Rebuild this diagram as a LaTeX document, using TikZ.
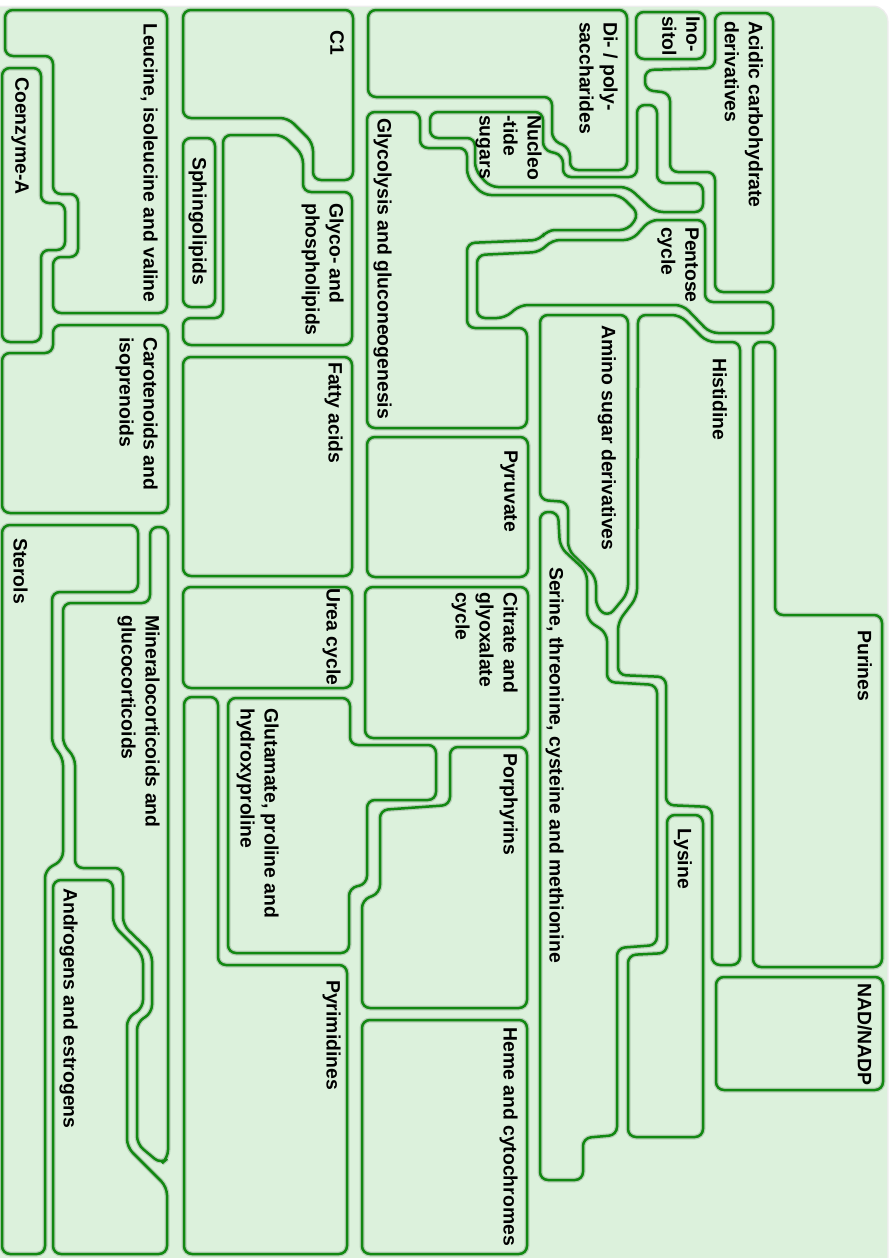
\documentclass[tikz,border=0pt]{standalone}
\usepackage{fontspec}
\setmainfont{Liberation Sans}
\definecolor{bggreen}{RGB}{220,241,220}
\definecolor{bglight}{RGB}{240,244,240}
\definecolor{rimgreen}{RGB}{18,136,18}
\definecolor{rimshade}{RGB}{140,165,140}
\pgfdeclareverticalshading{bgfade}{100bp}{color(0bp)=(bglight); color(16bp)=(bggreen); color(84bp)=(bggreen); color(100bp)=(bglight)}
\tikzset{
  mapregion/.style={draw=rimgreen, line width=2.5pt, rounded corners=8pt,
    preaction={draw=rimshade, line width=5pt, opacity=0.45}},
  pathname/.style={rotate=-90, anchor=north west, inner sep=0pt, align=left,
    font=\fontsize{19.4}{24}\selectfont\bfseries},
}

\begin{document}
\begin{tikzpicture}[x=1pt, y=-1pt]
\useasboundingbox (0,0) rectangle (892,1258);
\draw[black!7, line width=3pt, rounded corners=14pt] (-20,7) rectangle (887,1275);
\shade[shading=bgfade, shading angle=35, rounded corners=14pt] (-20,7) rectangle (887,1275);

% carbohydrates
\draw[mapregion] (715,13) -- (773,13) -- (773,292) -- (715,292) -- (715,172) -- (670,172) -- (670,93) -- (645,90) -- (645,70) -- (715,68) -- cycle;
\draw[mapregion] (636,12) rectangle (705,59);
\draw[mapregion] (368,10) -- (627,10) -- (627,170) -- (570,170) -- (570,148) -- (552,140) -- (552,97) -- (368,97) -- cycle;
\draw[mapregion] (430,112) -- (543,112) -- (543,150) -- (563,155) -- (563,177) -- (637,177) -- (637,105) -- (657,105) -- (657,183) -- (703,183) -- (703,212) -- (655,212) -- (628,187) -- (490,187) -- (475,170) -- (475,138) -- (430,138) -- cycle;
\draw[mapregion] (367,112) -- (420,112) -- (420,148) -- (467,148) -- (467,177) -- (483,195) -- (620,195) -- (639,214) -- (628,230) -- (547,230) -- (540,240) -- (467,243) -- (467,328) -- (527,328) -- (527,428) -- (367,428) -- cycle;
\draw[mapregion] (477,255) -- (540,252) -- (552,240) -- (632,240) -- (650,220) -- (705,220) -- (705,302) -- (773,302) -- (773,333) -- (710,333) -- (683,305) -- (520,305) -- (505,318) -- (477,318) -- cycle;

% lipids and cofactors
\draw[mapregion] (5,10) -- (167,10) -- (167,313) -- (53,313) -- (53,257) -- (78,257) -- (78,194) -- (53,194) -- (53,56) -- (5,56) -- cycle;
\draw[mapregion] (2,68) -- (41,68) -- (41,203) -- (65,203) -- (65,250) -- (41,250) -- (41,342) -- (2,342) -- cycle;
\draw[mapregion] (183,10) -- (353,10) -- (353,180) -- (313,180) -- (313,143) -- (288,118) -- (183,118) -- cycle;
\draw[mapregion] (183,138) rectangle (215,307);
\draw[mapregion] (223,135) -- (283,135) -- (303,155) -- (303,192) -- (352,192) -- (352,345) -- (183,345) -- (183,318) -- (223,318) -- cycle;
\draw[mapregion] (53,325) -- (168,325) -- (168,513) -- (2,513) -- (2,353) -- (53,353) -- cycle;
\draw[mapregion] (183,357) rectangle (352,576);
\draw[mapregion] (2,525) -- (138,525) -- (138,592) -- (52,592) -- (52,745) -- (63,757) -- (63,860) -- (45,870) -- (45,1254) -- (2,1254) -- cycle;
\draw[mapregion] (150,527) -- (168,527) -- (168,1158) -- (161,1164) -- (137,1144) -- (137,1022) -- (152,1013) -- (152,953) -- (123,925) -- (123,868) -- (75,868) -- (75,757) -- (63,745) -- (63,603) -- (150,603) -- cycle;
\draw[mapregion] (53,880) -- (113,880) -- (113,925) -- (143,955) -- (143,1008) -- (127,1018) -- (127,1147) -- (167,1187) -- (167,1254) -- (53,1254) -- cycle;

% amino acids and the rest
\draw[mapregion] (183,587) rectangle (352,688);
\draw[mapregion] (228,698) -- (350,698) -- (350,745) -- (436,745) -- (436,800) -- (367,800) -- (367,884) -- (349,888) -- (349,953) -- (228,953) -- cycle;
\draw[mapregion] (184,697) -- (218,697) -- (218,965) -- (347,965) -- (347,1254) -- (184,1254) -- cycle;
\draw[mapregion] (367,437) rectangle (528,577);
\draw[mapregion] (365,587) rectangle (528,738);
\draw[mapregion] (450,747) -- (527,747) -- (527,1008) -- (362,1008) -- (362,900) -- (380,893) -- (380,810) -- (450,805) -- cycle;
\draw[mapregion] (362,1020) rectangle (527,1254);
\draw[mapregion] (540,315) -- (628,315) -- (628,593) -- (608,617) -- (596,607) -- (596,577) -- (568,550) -- (568,502) -- (540,500) -- cycle;
\draw[mapregion] (540,512) -- (558,512) -- (560,547) -- (587,572) -- (587,620) -- (607,633) -- (607,682) -- (657,685) -- (657,945) -- (617,948) -- (617,1135) -- (583,1138) -- (583,1180) -- (540,1180) -- cycle;
\draw[mapregion] (638,315) -- (680,315) -- (707,342) -- (740,342) -- (740,965) -- (712,965) -- (712,807) -- (666,805) -- (666,677) -- (618,675) -- (618,622) -- (637,597) -- cycle;
\draw[mapregion] (667,815) -- (703,815) -- (703,1137) -- (628,1137) -- (628,955) -- (667,953) -- cycle;
\draw[mapregion] (753,342) -- (775,342) -- (775,615) -- (882,615) -- (882,967) -- (753,967) -- cycle;
\draw[mapregion] (716,977) rectangle (883,1090);

\node[pathname] (acidic) at (763,21) {Acidic carbohydrate\\derivatives};
\node[pathname] (inositol) at (700,16) {Ino-\\sitol};
\node[pathname] (dipoly) at (618,22) {Di- / poly-\\saccharides};
\node[pathname] (nucleo) at (542,115) {Nucleo\\-tide\\sugars};
\node[pathname] (glycolysis) at (392,118) {Glycolysis and gluconeogenesis};
\node[pathname] (cone) at (344,30) {C1};
\node[pathname] (leucine) at (158,23) {Leucine, isoleucine and valine};
\node[pathname] (coa) at (29,77) {Coenzyme-A};
\node[pathname] (sphingo) at (207,157) {Sphingolipids};
\node[pathname] (glycophospho) at (344,203) {Glyco- and\\phospholipids};
\node[pathname] (carotenoids) at (158,337) {Carotenoids and\\isoprenoids};
\node[pathname] (fatty) at (343,362) {Fatty acids};
\node[pathname] (pyruvate) at (518,450) {Pyruvate};
\node[pathname] (citrate) at (518,592) {Citrate and\\glyoxalate\\cycle};
\node[pathname] (urea) at (341,588) {Urea cycle};
\node[pathname] (glutamate) at (279,708) {Glutamate, proline and\\hydroxyproline};
\node[pathname] (porphyrins) at (518,753) {Porphyrins};
\node[pathname] (pyrimidines) at (341,980) {Pyrimidines};
\node[pathname] (heme) at (518,1027) {Heme and cytochromes};
\node[pathname] (serine) at (564,567) {Serine, threonine, cysteine and methionine};
\node[pathname] (aminosugar) at (616,325) {Amino sugar derivatives};
\node[pathname] (histidine) at (727,358) {Histidine};
\node[pathname] (lysine) at (692,828) {Lysine};
\node[pathname] (purines) at (872,630) {Purines};
\node[pathname] (nad) at (872,983) {NAD/NADP};
\node[pathname] (pentose) at (699,227) {Pentose\\cycle};
\node[pathname] (mineralo) at (160,615) {Mineralocorticoids and\\glucocorticoids};
\node[pathname] (sterols) at (28,538) {Sterols};
\node[pathname] (androgens) at (78,888) {Androgens and estrogens};
\end{tikzpicture}
\end{document}
